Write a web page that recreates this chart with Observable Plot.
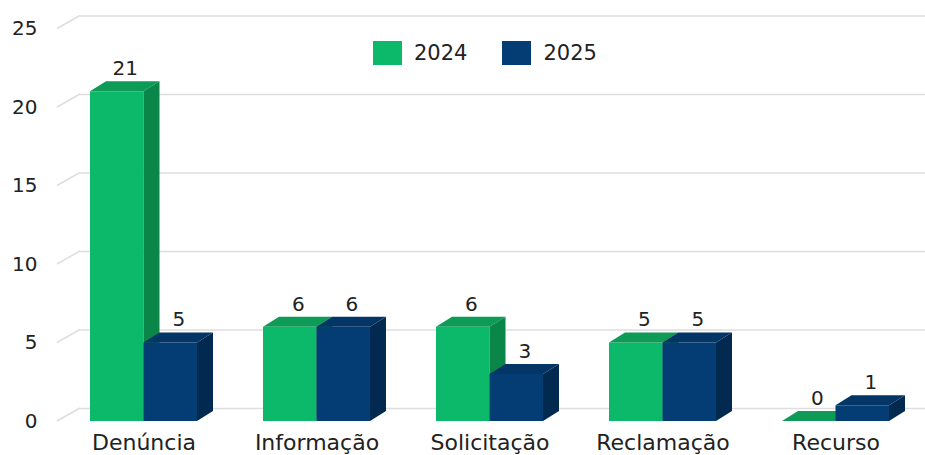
<!DOCTYPE html>
<html><head><meta charset="utf-8">
<script src="https://cdn.jsdelivr.net/npm/d3@7"></script>
<script src="https://cdn.jsdelivr.net/npm/@observablehq/plot@0.6"></script>
<style>
body{margin:0;background:#fff;}
#wrap{position:relative;width:925px;height:455px;font-family:"DejaVu Sans",sans-serif;overflow:hidden;}
.legend{position:absolute;top:41px;left:373px;display:flex;align-items:center;font-size:21px;color:#222;height:24px;}
.sw{width:29px;height:24px;display:inline-block;margin-right:12px;}
.lab{margin-right:35px;}
</style></head><body><div id="wrap"></div>
<script>
const categories = ["Denúncia", "Informação", "Solicitação", "Reclamação", "Recurso"];
const series = ["2024", "2025"];
const values2024 = [21, 6, 6, 5, 0];
const values2025 = [5, 6, 3, 5, 1];
const yTicks = [0, 5, 10, 15, 20, 25];
const palette = {
  "2024": {front: "#0cb86a", top: "#0e9a57", side: "#0a8649"},
  "2025": {front: "#043d73", top: "#033567", side: "#022a50"}
};

const rows = categories.flatMap((c, i) => series.map((s, k) => ({
  cat: c, series: s, k, value: k === 0 ? values2024[i] : values2025[i]
})));

const DX = 16, DY = 10;       // bar depth
const GX = 23, GY = 13;       // back wall offset

function bw(scale) {
  return typeof scale.bandwidth === "function" ? scale.bandwidth() : scale.bandwidth;
}

const bars3d = Plot.barY(rows, {
  x: "cat", y1: 0, y2: "value",
  render(index, scales) {
    const x = scales.x, y = scales.y;
    const w = bw(x) / 2;
    const g = d3.create("svg:g");
    const y0 = y(0);
    for (const i of index) {
      const d = rows[i];
      const c = palette[d.series];
      const x0 = x(d.cat) + d.k * w;
      const yt = y(d.value);
      g.append("rect").attr("x", x0).attr("y", yt).attr("width", w).attr("height", Math.max(0, y0 - yt)).attr("fill", c.front);
      g.append("path").attr("fill", c.top)
        .attr("d", `M${x0},${yt}L${x0 + DX},${yt - DY}L${x0 + w + DX},${yt - DY}L${x0 + w},${yt}Z`);
      g.append("path").attr("fill", c.side)
        .attr("d", `M${x0 + w},${yt}L${x0 + w + DX},${yt - DY}L${x0 + w + DX},${y0 - DY}L${x0 + w},${y0}Z`);
    }
    return g.node();
  }
});

const diagonals = Plot.ruleY(yTicks, {
  render(index, scales, values, dims) {
    const y = scales.y;
    const g = d3.create("svg:g").attr("stroke", "#dedede").attr("stroke-width", 1.5);
    for (const i of index) {
      const t = yTicks[i];
      g.append("line").attr("x1", dims.marginLeft).attr("y1", y(t))
        .attr("x2", dims.marginLeft + GX).attr("y2", y(t) - GY);
    }
    return g.node();
  }
});

const half = 107 / 4;
const chart = Plot.plot({
  width: 925,
  height: 455,
  marginLeft: 57,
  marginRight: 3,
  marginTop: 28.5,
  marginBottom: 34,
  style: {fontFamily: "DejaVu Sans, sans-serif", color: "#222", background: "#fff"},
  x: {type: "band", domain: categories, paddingInner: 0.382, paddingOuter: 0.19, label: null},
  y: {domain: [0, 25], label: null},
  marks: [
    Plot.ruleY(yTicks, {dx: GX, dy: -GY, stroke: "#dedede", strokeWidth: 1.5}),
    diagonals,
    bars3d,
    Plot.text(rows.filter(d => d.k === 0), {x: "cat", y: "value", text: d => String(d.value), dx: -half + 8, dy: -23, fontSize: 20, fill: "#222"}),
    Plot.text(rows.filter(d => d.k === 1), {x: "cat", y: "value", text: d => String(d.value), dx: half + 8, dy: -23, fontSize: 20, fill: "#222"}),
    Plot.axisY({ticks: yTicks, tickSize: 0, tickPadding: 20, fontSize: 20, fill: "#222"}),
    Plot.axisX({tickSize: 0, tickPadding: 13, fontSize: 22, fill: "#222", style: {letterSpacing: "0.8px"}})
  ]
});

const wrap = document.getElementById("wrap");
wrap.appendChild(chart);
const legend = document.createElement("div");
legend.className = "legend";
series.forEach(s => {
  const sw = document.createElement("span");
  sw.className = "sw";
  sw.style.background = palette[s].front;
  const lab = document.createElement("span");
  lab.className = "lab";
  lab.textContent = s;
  legend.appendChild(sw);
  legend.appendChild(lab);
});
wrap.appendChild(legend);
</script>
</body></html>
